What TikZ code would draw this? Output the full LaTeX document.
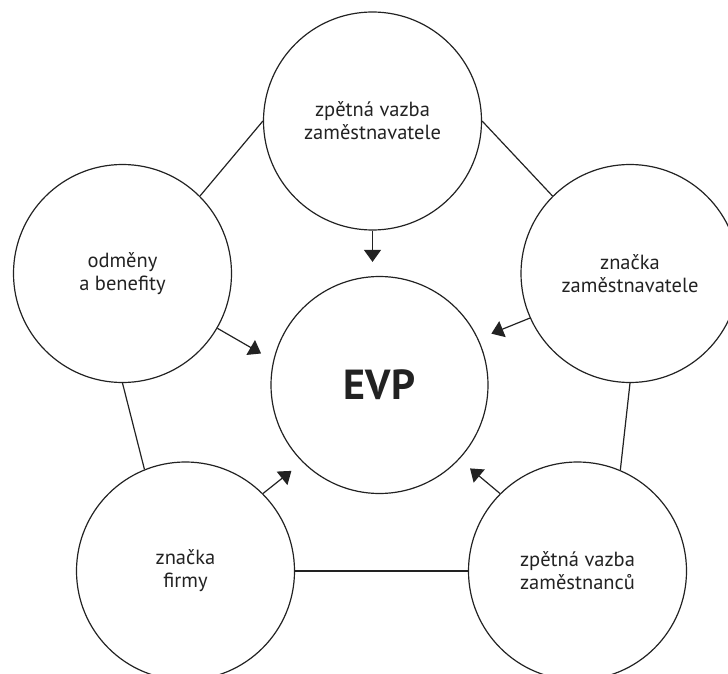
\documentclass[tikz,border=0pt]{standalone}
\usepackage{fontspec}
\setmainfont{PT Sans}
\usetikzlibrary{arrows.meta,calc}
\definecolor{ink}{HTML}{222222}

\begin{document}
\begin{tikzpicture}[x=1pt,y=-1pt,
 part/.style={draw=ink,circle,line width=1.2pt,minimum size=218pt,inner sep=0pt,align=center,text=ink,font=\fontsize{20.5}{23}\selectfont},
 core/.style={part,minimum size=217pt,font=\fontsize{42}{46}\selectfont\bfseries},
 link/.style={draw=ink,line width=1.2pt},
 feed/.style={link,-{Triangle[length=12pt,width=17pt]},shorten >=14pt}]
\useasboundingbox (0,0) rectangle (728,674);
\clip (0,0) rectangle (728,674);
\node[core] (evp) at (379.5,385) {EVP};
\node[part] (top) at (372.5,121) {zpětná vazba\\zaměstnavatele};
\node[part] (left) at (122.5,273.5) {odměny\\a benefity};
\node[part] (right) at (630,273.5) {značka\\zaměstnavatele};
\node[part] (bl) at (185.5,571) {značka\\firmy};
\node[part] (br) at (577.5,571) {zpětná vazba\\zaměstnanců};
\draw[link] (left.45) -- (top.west);
\draw[link] (top.east) -- (right.135);
\draw[link] (left.south) -- (bl.112);
\draw[link] (right.south) -- (br.67);
\draw[link] (bl.east) -- (br.west);
\draw[feed] (top.south) -- (top.south |- evp.north);
\draw[feed] (left.-30) -- (evp.167);
\draw[feed] (right.204) -- (evp.25);
\draw[feed] (bl.45) -- (evp.225);
\draw[feed] (br.135) -- (evp.317);
\end{tikzpicture}
\end{document}
